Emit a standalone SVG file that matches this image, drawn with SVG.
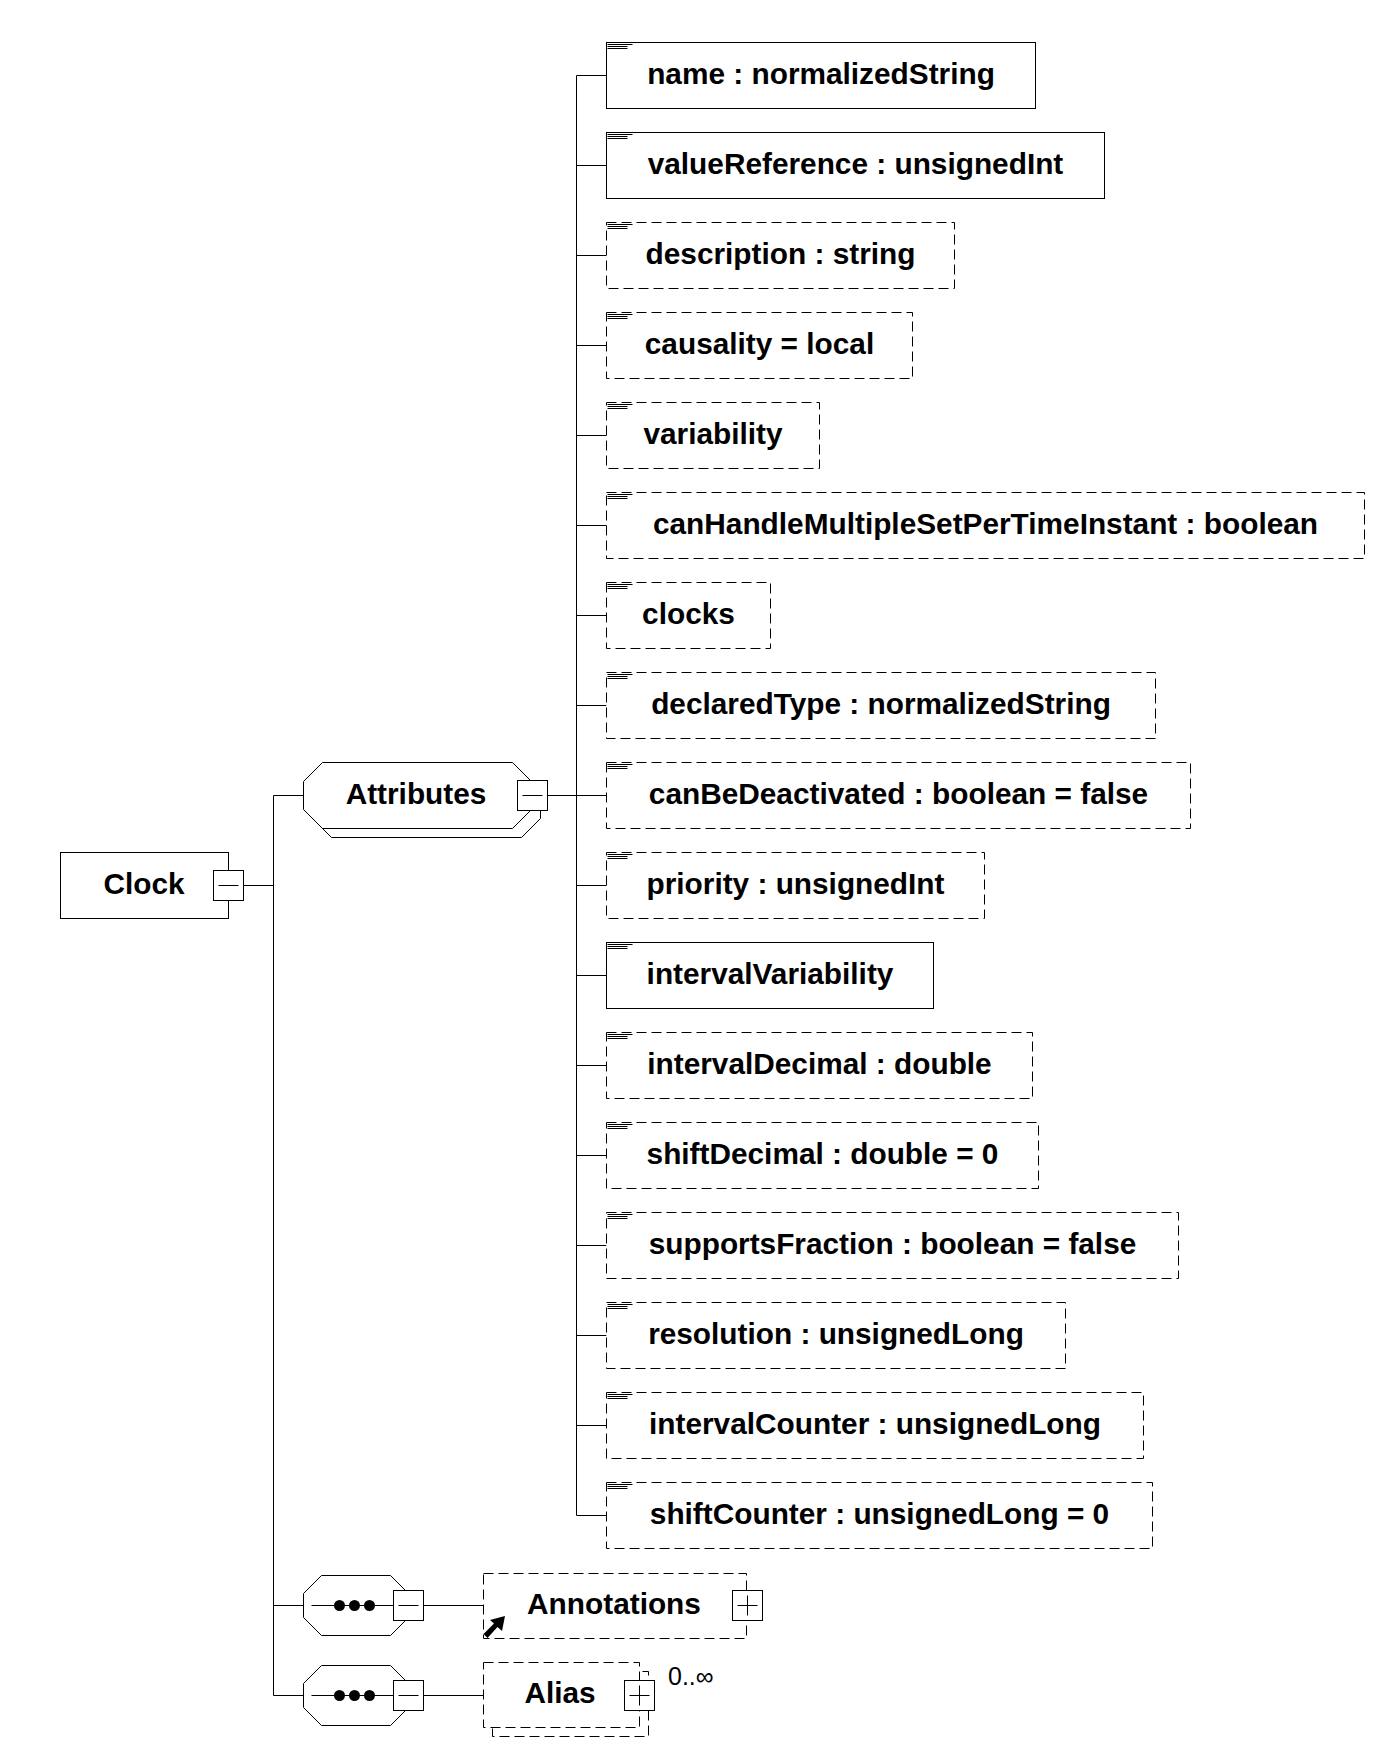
<svg xmlns="http://www.w3.org/2000/svg" xmlns:xlink="http://www.w3.org/1999/xlink" width="1395" height="1740" viewBox="0 0 1395 1740">
<style>
  .box { fill: #fff; stroke: #000; stroke-width: 1; }
  .opt { fill: #fff; stroke: #000; stroke-width: 1; stroke-dasharray: 10 5; }
  .ln { fill: none; stroke: #000; stroke-width: 1; }
  .lbl { font-family: "Liberation Sans", Arial, sans-serif; font-weight: bold; font-size: 29.8px; fill: #000; text-anchor: middle; }
  .occ { font-family: "Liberation Sans", Arial, sans-serif; font-size: 25px; fill: #000; }
</style>
<defs>
  <g id="attrIcon">
    <line class="ln" x1="1" y1="2" x2="26" y2="2"/>
    <line class="ln" x1="1" y1="4" x2="21" y2="4"/>
    <line class="ln" x1="1" y1="6" x2="21" y2="6"/>
  </g>
  <g id="minusBox">
    <rect class="box" x="0" y="0" width="30" height="30"/>
    <line class="ln" x1="5" y1="15" x2="25" y2="15"/>
  </g>
  <g id="plusBox">
    <rect class="box" x="0" y="0" width="30" height="30"/>
    <line class="ln" x1="5" y1="15" x2="25" y2="15"/>
    <line class="ln" x1="15" y1="5" x2="15" y2="25"/>
  </g>
</defs>
<rect x="0" y="0" width="1395" height="1740" fill="#fff"/>

<g id="connectors">
  <line class="ln" x1="243.5" y1="885.5" x2="273.5" y2="885.5"/>
  <line class="ln" x1="273.5" y1="795.5" x2="273.5" y2="1695.5"/>
  <line class="ln" x1="273.5" y1="795.5" x2="303.5" y2="795.5"/>
  <line class="ln" x1="273.5" y1="1605.5" x2="303.5" y2="1605.5"/>
  <line class="ln" x1="273.5" y1="1695.5" x2="303.5" y2="1695.5"/>
  <line class="ln" x1="547.5" y1="795.5" x2="606.5" y2="795.5"/>
  <line class="ln" x1="576.5" y1="75.5" x2="576.5" y2="1515.5"/>
  <line class="ln" x1="576.5" y1="75.5" x2="606.5" y2="75.5"/>
  <line class="ln" x1="576.5" y1="165.5" x2="606.5" y2="165.5"/>
  <line class="ln" x1="576.5" y1="255.5" x2="606.5" y2="255.5"/>
  <line class="ln" x1="576.5" y1="345.5" x2="606.5" y2="345.5"/>
  <line class="ln" x1="576.5" y1="435.5" x2="606.5" y2="435.5"/>
  <line class="ln" x1="576.5" y1="525.5" x2="606.5" y2="525.5"/>
  <line class="ln" x1="576.5" y1="615.5" x2="606.5" y2="615.5"/>
  <line class="ln" x1="576.5" y1="705.5" x2="606.5" y2="705.5"/>
  <line class="ln" x1="576.5" y1="885.5" x2="606.5" y2="885.5"/>
  <line class="ln" x1="576.5" y1="975.5" x2="606.5" y2="975.5"/>
  <line class="ln" x1="576.5" y1="1065.5" x2="606.5" y2="1065.5"/>
  <line class="ln" x1="576.5" y1="1155.5" x2="606.5" y2="1155.5"/>
  <line class="ln" x1="576.5" y1="1245.5" x2="606.5" y2="1245.5"/>
  <line class="ln" x1="576.5" y1="1335.5" x2="606.5" y2="1335.5"/>
  <line class="ln" x1="576.5" y1="1425.5" x2="606.5" y2="1425.5"/>
  <line class="ln" x1="576.5" y1="1515.5" x2="606.5" y2="1515.5"/>
  <line class="ln" x1="423.5" y1="1605.5" x2="483.5" y2="1605.5"/>
  <line class="ln" x1="423.5" y1="1695.5" x2="483.5" y2="1695.5"/>
</g>

<g id="node-clock">
  <rect class="box" x="60.5" y="852.5" width="168" height="66"/>
  <text class="lbl" x="144" y="894">Clock</text>
  <use xlink:href="#minusBox" x="213.5" y="870.5"/>
</g>

<g id="node-attributes">
  <polygon class="box" points="331.5,771.5 521.5,771.5 540.5,790.5 540.5,818.5 521.5,837.5 331.5,837.5 312.5,818.5 312.5,790.5"/>
  <polygon class="box" points="322.5,762.5 512.5,762.5 531.5,781.5 531.5,809.5 512.5,828.5 322.5,828.5 303.5,809.5 303.5,781.5"/>
  <text class="lbl" x="416" y="803.5">Attributes</text>
  <use xlink:href="#minusBox" x="517.5" y="780.5"/>
</g>

<g id="attr-name">
  <rect class="box" x="606.5" y="42.5" width="429" height="66"/>
  <use xlink:href="#attrIcon" x="606.5" y="42.5"/>
  <text class="lbl" x="821" y="83.5">name : normalizedString</text>
</g>
<g id="attr-valueReference">
  <rect class="box" x="606.5" y="132.5" width="498" height="66"/>
  <use xlink:href="#attrIcon" x="606.5" y="132.5"/>
  <text class="lbl" x="855.5" y="173.5">valueReference : unsignedInt</text>
</g>
<g id="attr-description">
  <rect class="opt" x="606.5" y="222.5" width="348" height="66"/>
  <use xlink:href="#attrIcon" x="606.5" y="222.5"/>
  <text class="lbl" x="780.5" y="263.5">description : string</text>
</g>
<g id="attr-causality">
  <rect class="opt" x="606.5" y="312.5" width="306" height="66"/>
  <use xlink:href="#attrIcon" x="606.5" y="312.5"/>
  <text class="lbl" x="759.5" y="353.5">causality = local</text>
</g>
<g id="attr-variability">
  <rect class="opt" x="606.5" y="402.5" width="213" height="66"/>
  <use xlink:href="#attrIcon" x="606.5" y="402.5"/>
  <text class="lbl" x="713" y="443.5">variability</text>
</g>
<g id="attr-canHandleMultipleSetPerTimeInstant">
  <rect class="opt" x="606.5" y="492.5" width="758" height="66"/>
  <use xlink:href="#attrIcon" x="606.5" y="492.5"/>
  <text class="lbl" x="985.5" y="533.5">canHandleMultipleSetPerTimeInstant : boolean</text>
</g>
<g id="attr-clocks">
  <rect class="opt" x="606.5" y="582.5" width="164" height="66"/>
  <use xlink:href="#attrIcon" x="606.5" y="582.5"/>
  <text class="lbl" x="688.5" y="623.5">clocks</text>
</g>
<g id="attr-declaredType">
  <rect class="opt" x="606.5" y="672.5" width="549" height="66"/>
  <use xlink:href="#attrIcon" x="606.5" y="672.5"/>
  <text class="lbl" x="881" y="713.5">declaredType : normalizedString</text>
</g>
<g id="attr-canBeDeactivated">
  <rect class="opt" x="606.5" y="762.5" width="584" height="66"/>
  <use xlink:href="#attrIcon" x="606.5" y="762.5"/>
  <text class="lbl" x="898.5" y="803.5">canBeDeactivated : boolean = false</text>
</g>
<g id="attr-priority">
  <rect class="opt" x="606.5" y="852.5" width="378" height="66"/>
  <use xlink:href="#attrIcon" x="606.5" y="852.5"/>
  <text class="lbl" x="795.5" y="893.5">priority : unsignedInt</text>
</g>
<g id="attr-intervalVariability">
  <rect class="box" x="606.5" y="942.5" width="327" height="66"/>
  <use xlink:href="#attrIcon" x="606.5" y="942.5"/>
  <text class="lbl" x="770" y="983.5">intervalVariability</text>
</g>
<g id="attr-intervalDecimal">
  <rect class="opt" x="606.5" y="1032.5" width="426" height="66"/>
  <use xlink:href="#attrIcon" x="606.5" y="1032.5"/>
  <text class="lbl" x="819.5" y="1073.5">intervalDecimal : double</text>
</g>
<g id="attr-shiftDecimal">
  <rect class="opt" x="606.5" y="1122.5" width="432" height="66"/>
  <use xlink:href="#attrIcon" x="606.5" y="1122.5"/>
  <text class="lbl" x="822.5" y="1163.5">shiftDecimal : double = 0</text>
</g>
<g id="attr-supportsFraction">
  <rect class="opt" x="606.5" y="1212.5" width="572" height="66"/>
  <use xlink:href="#attrIcon" x="606.5" y="1212.5"/>
  <text class="lbl" x="892.5" y="1253.5">supportsFraction : boolean = false</text>
</g>
<g id="attr-resolution">
  <rect class="opt" x="606.5" y="1302.5" width="459" height="66"/>
  <use xlink:href="#attrIcon" x="606.5" y="1302.5"/>
  <text class="lbl" x="836" y="1343.5">resolution : unsignedLong</text>
</g>
<g id="attr-intervalCounter">
  <rect class="opt" x="606.5" y="1392.5" width="537" height="66"/>
  <use xlink:href="#attrIcon" x="606.5" y="1392.5"/>
  <text class="lbl" x="875" y="1433.5">intervalCounter : unsignedLong</text>
</g>
<g id="attr-shiftCounter">
  <rect class="opt" x="606.5" y="1482.5" width="546" height="66"/>
  <use xlink:href="#attrIcon" x="606.5" y="1482.5"/>
  <text class="lbl" x="879.5" y="1523.5">shiftCounter : unsignedLong = 0</text>
</g>

<g id="sequence-1">
  <polygon class="box" points="321.5,1575.5 390.5,1575.5 408.5,1593.5 408.5,1617.5 390.5,1635.5 321.5,1635.5 303.5,1617.5 303.5,1593.5"/>
  <line class="ln" x1="311.5" y1="1605.5" x2="393.5" y2="1605.5"/>
  <circle cx="339.5" cy="1605.5" r="5.5" fill="#000"/>
  <circle cx="354.5" cy="1605.5" r="5.5" fill="#000"/>
  <circle cx="369.5" cy="1605.5" r="5.5" fill="#000"/>
  <use xlink:href="#minusBox" x="393.5" y="1590.5"/>
</g>

<g id="node-annotations">
  <rect class="opt" x="483.5" y="1573.5" width="263" height="65"/>
  <text class="lbl" x="614" y="1613.5">Annotations</text>
  <polygon points="505,1616 502,1631 497.5,1627 487.5,1638 483.5,1634 494,1623.5 490,1620" fill="#000"/>
  <use xlink:href="#plusBox" x="732.5" y="1590.5"/>
</g>

<g id="sequence-2">
  <polygon class="box" points="321.5,1665.5 390.5,1665.5 408.5,1683.5 408.5,1707.5 390.5,1725.5 321.5,1725.5 303.5,1707.5 303.5,1683.5"/>
  <line class="ln" x1="311.5" y1="1695.5" x2="393.5" y2="1695.5"/>
  <circle cx="339.5" cy="1695.5" r="5.5" fill="#000"/>
  <circle cx="354.5" cy="1695.5" r="5.5" fill="#000"/>
  <circle cx="369.5" cy="1695.5" r="5.5" fill="#000"/>
  <use xlink:href="#minusBox" x="393.5" y="1680.5"/>
</g>

<g id="node-alias">
  <rect class="opt" x="492.5" y="1671.5" width="156" height="65"/>
  <rect class="opt" x="483.5" y="1662.5" width="156" height="65"/>
  <text class="lbl" x="560" y="1702.5">Alias</text>
  <use xlink:href="#plusBox" x="624.5" y="1680.5"/>
  <text class="occ" x="668" y="1685">0..∞</text>
</g>
</svg>
